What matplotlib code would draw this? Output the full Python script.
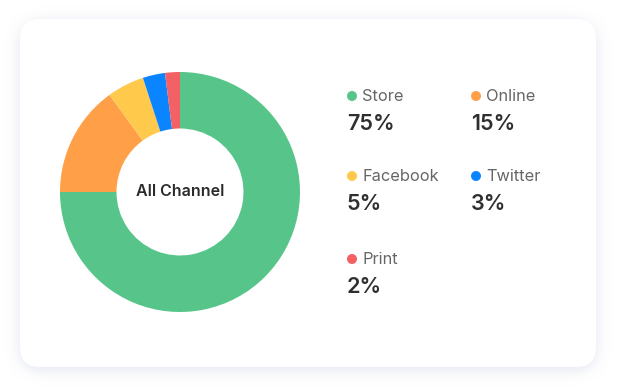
import numpy as np
import matplotlib.pyplot as plt
from matplotlib.patches import FancyBboxPatch, Circle

plt.rcParams['font.family'] = ['Inter', 'DejaVu Sans']

# channel share data
channels = ['Store', 'Online', 'Facebook', 'Twitter', 'Print']
shares = [75, 15, 5, 3, 2]
colors = ['#57c589', '#ffa048', '#ffc94b', '#0a84ff', '#f46164']
value_labels = [f'{v}%' for v in shares]

W, H = 619, 389
fig = plt.figure(figsize=(W / 100, H / 100), dpi=100)
ax = fig.add_axes([0, 0, 1, 1])
fig.patch.set_facecolor('white')

# card box in pixel units (left, top, right, bottom)
cl, ct, cr, cb, rad = 20, 19, 596, 367, 20


def py(y):
    # flip pixel y so that the top of the figure is y=0
    return H - y


def rounded_mask(l, t, r, b, rr):
    yy, xx = np.mgrid[0:H, 0:W] + 0.5
    dx = np.maximum(np.maximum(l + rr - xx, xx - (r - rr)), 0)
    dy = np.maximum(np.maximum(t + rr - yy, yy - (b - rr)), 0)
    return (np.hypot(dx, dy) <= rr).astype(float)


def blur(img, sigma):
    k = np.arange(-3 * sigma, 3 * sigma + 1)
    k = np.exp(-k ** 2 / (2 * sigma ** 2))
    k /= k.sum()
    img = np.apply_along_axis(lambda v: np.convolve(v, k, mode='same'), 0, img)
    img = np.apply_along_axis(lambda v: np.convolve(v, k, mode='same'), 1, img)
    return img


# soft shadow under the card
shadow = blur(rounded_mask(cl, ct + 3, cr, cb + 3, rad), 7)
rgba = np.zeros((H, W, 4))
rgba[..., 0] = 0.80
rgba[..., 1] = 0.82
rgba[..., 2] = 0.90
rgba[..., 3] = shadow * 0.55
ax.imshow(rgba, extent=(0, W, 0, H), origin='upper', zorder=1, interpolation='bilinear')

card = FancyBboxPatch((cl, py(cb)), cr - cl, cb - ct, boxstyle=f'round,pad=0,rounding_size={rad}',
                      fc='white', ec='none', zorder=2)
ax.add_patch(card)

# donut
wedges, _ = ax.pie(shares, colors=colors, startangle=90, counterclock=False,
                   radius=120, center=(180, py(192)),
                   wedgeprops=dict(width=56.5, edgecolor='none'))
for w in wedges:
    w.set_zorder(3)
ax.text(180, py(191), 'All Channel', ha='center', va='center', fontsize=11.5,
        fontweight='semibold', color='#2b2b2b', zorder=4)

# legend grid: two columns, three rows
col_x = [347, 471]
row_y = [96, 176, 259]
for i, (name, val, c) in enumerate(zip(channels, value_labels, colors)):
    x0 = col_x[i % 2]
    y0 = row_y[i // 2]
    ax.add_patch(Circle((x0 + 5, py(y0)), 5, fc=c, ec='none', zorder=4))
    ax.text(x0 + 15, py(y0), name, ha='left', va='center', fontsize=11.8,
            color='#666666', zorder=4)
    ax.text(x0, py(y0 + 28), val, ha='left', va='center', fontsize=15.5,
            fontweight='semibold', color='#2f2f2f', zorder=4)

ax.set_xlim(0, W)
ax.set_ylim(0, H)
ax.set_aspect('auto')
ax.axis('off')

fig.savefig('out.png', dpi=100, facecolor='white')
